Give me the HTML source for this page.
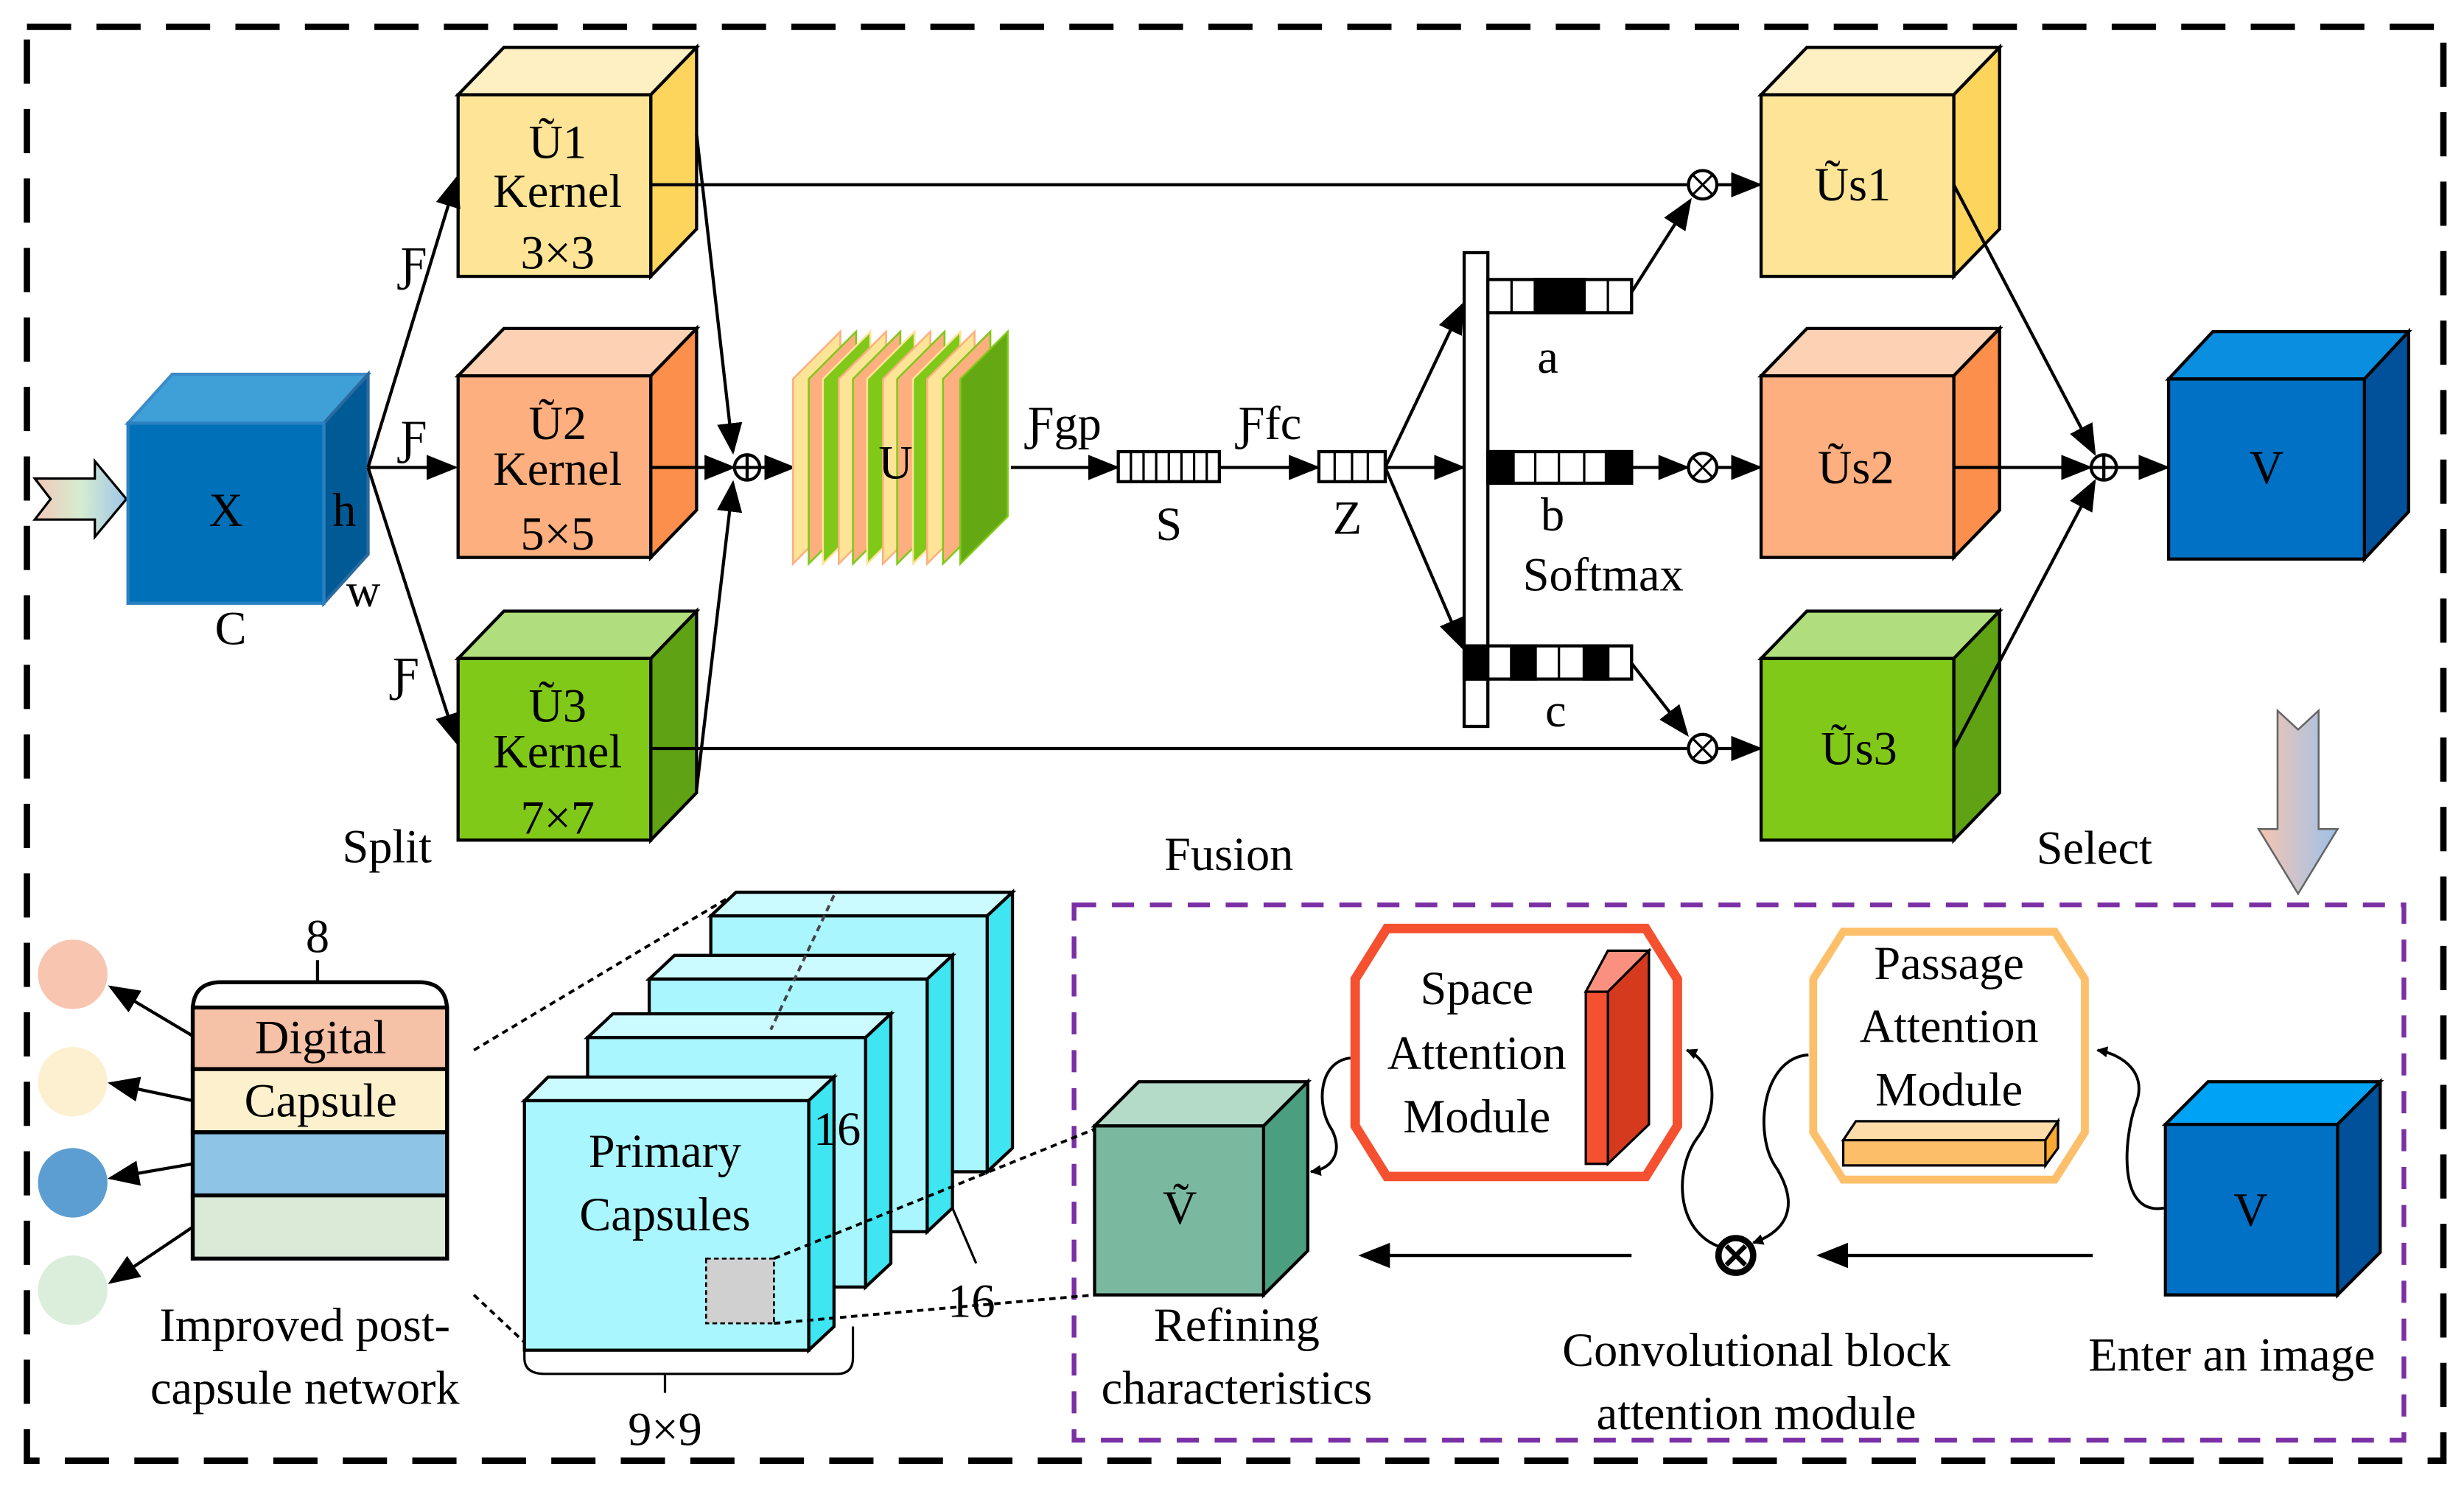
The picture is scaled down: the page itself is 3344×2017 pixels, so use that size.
<!DOCTYPE html>
<html><head><meta charset="utf-8"><style>
html,body{margin:0;padding:0;background:#fff}
svg{display:block}
text{font-family:"Liberation Serif",serif;fill:#000}
</style></head><body>
<svg width="3344" height="2017" viewBox="0 0 1560 941" xmlns="http://www.w3.org/2000/svg">
<defs>
<marker id="ah" viewBox="0 0 10 10" refX="9" refY="5" markerWidth="7" markerHeight="7" orient="auto-start-reverse" markerUnits="userSpaceOnUse"><path d="M0,0 L10,5 L0,10 z" fill="#000"/></marker>
<marker id="ah2" viewBox="0 0 10 10" refX="9" refY="5" markerWidth="20" markerHeight="20" orient="auto" markerUnits="userSpaceOnUse"><path d="M0,1 L10,5 L0,9 z" fill="#000"/></marker>
<linearGradient id="ing" x1="0" y1="0" x2="1" y2="0"><stop offset="0" stop-color="#f3c8b8"/><stop offset="0.5" stop-color="#d6ecd0"/><stop offset="1" stop-color="#9ec6e8"/></linearGradient>
<linearGradient id="dng" x1="0" y1="0" x2="1" y2="0"><stop offset="0" stop-color="#f7c4b0"/><stop offset="1" stop-color="#9cc2ea"/></linearGradient>
</defs>
<rect x="17" y="17" width="1530" height="908" fill="none" stroke="#000" stroke-width="4" stroke-dasharray="28,16"/>
<g stroke="#000" stroke-width="2">
<polygon points="22,303 60,303 60,292 80,316 60,340 60,329 22,329 32,316" fill="url(#ing)" stroke-width="1.5"/>
<polygon points="81,268 109,237 233,237 205,268" fill="#3fa0d8" stroke="#3a8cc8"/>
<polygon points="205,268 233,237 233,351 205,382" fill="#005a96" stroke="#2a6aa0"/>
<rect x="81" y="268" width="124" height="114" fill="#0071b8" stroke="#2a80c0"/>
<polygon points="290,60 319,30 441,30 412,60" fill="#fff0c4"/><polygon points="412,60 441,30 441,145 412,175" fill="#fdd45c"/><rect x="290" y="60" width="122" height="115" fill="#fde497"/>
<polygon points="290,238 319,208 441,208 412,238" fill="#fdd1b4"/><polygon points="412,238 441,208 441,323 412,353" fill="#fc8f4b"/><rect x="290" y="238" width="122" height="115" fill="#fdaf80"/>
<polygon points="290,417 319,387 441,387 412,417" fill="#b1de7c"/><polygon points="412,417 441,387 441,502 412,532" fill="#5fa214"/><rect x="290" y="417" width="122" height="115" fill="#80c918"/>
<line x1="233" y1="296" x2="289" y2="113" marker-end="url(#ah2)"/>
<line x1="233" y1="296" x2="288" y2="296" marker-end="url(#ah2)"/>
<line x1="233" y1="296" x2="289" y2="470" marker-end="url(#ah2)"/>
<line x1="441" y1="85" x2="464" y2="286" marker-end="url(#ah2)"/>
<line x1="412" y1="296" x2="464" y2="296" marker-end="url(#ah2)"/>
<line x1="441" y1="500" x2="464" y2="306" marker-end="url(#ah2)"/>
<circle cx="473" cy="296" r="8" fill="#fff"/><line x1="465" y1="296" x2="481" y2="296"/><line x1="473" y1="288" x2="473" y2="304"/>
<line x1="481" y1="296" x2="502" y2="296" marker-end="url(#ah2)"/>
</g>
<g stroke-width="1.2">
<polygon points="502,240 532,210 532,327 502,357" fill="#fde497" stroke="#fdaf80"/>
<polygon points="512,240 542,210 542,327 512,357" fill="#fdaf80" stroke="#80c918"/>
<polygon points="521,240 551,210 551,327 521,357" fill="#80c918" stroke="#fde497"/>
<polygon points="531,240 561,210 561,327 531,357" fill="#fde497" stroke="#fdaf80"/>
<polygon points="540,240 570,210 570,327 540,357" fill="#fdaf80" stroke="#80c918"/>
<polygon points="549,240 579,210 579,327 549,357" fill="#80c918" stroke="#fde497"/>
<polygon points="559,240 589,210 589,327 559,357" fill="#fde497" stroke="#fdaf80"/>
<polygon points="568,240 598,210 598,327 568,357" fill="#fdaf80" stroke="#80c918"/>
<polygon points="578,240 608,210 608,327 578,357" fill="#80c918" stroke="#fde497"/>
<polygon points="587,240 617,210 617,327 587,357" fill="#fde497" stroke="#fdaf80"/>
<polygon points="597,240 627,210 627,327 597,357" fill="#fdaf80" stroke="#80c918"/>
<polygon points="608,240 638,210 638,327 608,357" fill="#64a814" stroke="#80c918"/>
</g>
<g stroke="#000" stroke-width="2">
<line x1="640" y1="296" x2="707" y2="296" marker-end="url(#ah2)"/>
<rect x="708" y="286" width="64" height="19" fill="#fff"/>
<path d="M716,286v19M724,286v19M732,286v19M740,286v19M748,286v19M756,286v19M764,286v19" stroke-width="1.5"/>
<line x1="772" y1="296" x2="834" y2="296" marker-end="url(#ah2)"/>
<rect x="835" y="286" width="42" height="19" fill="#fff"/>
<path d="M845,286v19M856,286v19M866,286v19" stroke-width="1.5"/>
<line x1="877" y1="296" x2="926" y2="296" marker-end="url(#ah2)"/>
<line x1="877" y1="296" x2="926" y2="193" marker-end="url(#ah2)"/>
<line x1="877" y1="296" x2="926" y2="410" marker-end="url(#ah2)"/>
<rect x="927" y="160" width="15" height="300" fill="#fff"/>
<rect x="942" y="177" width="91" height="21" fill="#fff"/>
<rect x="972" y="177" width="31" height="21" fill="#000"/>
<path d="M957,177v21M1018,177v21" stroke-width="1.5"/>
<rect x="942" y="286" width="91" height="20" fill="#fff"/>
<rect x="942" y="286" width="16" height="20" fill="#000"/><rect x="1017" y="286" width="16" height="20" fill="#000"/>
<path d="M972,286v20M987,286v20M1003,286v20" stroke-width="1.5"/>
<rect x="927" y="409" width="106" height="21" fill="#fff"/>
<rect x="927" y="409" width="15" height="21" fill="#000"/><rect x="957" y="409" width="15" height="21" fill="#000"/><rect x="1003" y="409" width="15" height="21" fill="#000"/>
<path d="M987,409v21" stroke-width="1.5"/>
<line x1="1033" y1="185" x2="1070" y2="127" marker-end="url(#ah2)"/>
<line x1="1033" y1="296" x2="1068" y2="296" marker-end="url(#ah2)"/>
<line x1="1033" y1="420" x2="1068" y2="465" marker-end="url(#ah2)"/>
<line x1="412" y1="117" x2="1068" y2="117"/>
<line x1="412" y1="474" x2="1068" y2="474"/>
<g fill="#fff">
<circle cx="1078" cy="117" r="9"/><circle cx="1078" cy="296" r="9"/><circle cx="1078" cy="474" r="9"/>
</g>
<path d="M1072,111l12,12M1084,111l-12,12M1072,290l12,12M1084,290l-12,12M1072,468l12,12M1084,468l-12,12" stroke-width="1.5"/>
<line x1="1087" y1="117" x2="1114" y2="117" marker-end="url(#ah2)"/>
<line x1="1087" y1="296" x2="1114" y2="296" marker-end="url(#ah2)"/>
<line x1="1087" y1="474" x2="1114" y2="474" marker-end="url(#ah2)"/>
<polygon points="1115,60 1144,30 1266,30 1237,60" fill="#fff0c4"/><polygon points="1237,60 1266,30 1266,145 1237,175" fill="#fdd45c"/><rect x="1115" y="60" width="122" height="115" fill="#fde497"/>
<polygon points="1115,238 1144,208 1266,208 1237,238" fill="#fdd1b4"/><polygon points="1237,238 1266,208 1266,323 1237,353" fill="#fc8f4b"/><rect x="1115" y="238" width="122" height="115" fill="#fdaf80"/>
<polygon points="1115,417 1144,387 1266,387 1237,417" fill="#b1de7c"/><polygon points="1237,417 1266,387 1266,502 1237,532" fill="#5fa214"/><rect x="1115" y="417" width="122" height="115" fill="#80c918"/>
<line x1="1237" y1="117" x2="1326" y2="287" marker-end="url(#ah2)"/>
<line x1="1237" y1="296" x2="1323" y2="296" marker-end="url(#ah2)"/>
<line x1="1237" y1="474" x2="1326" y2="305" marker-end="url(#ah2)"/>
<circle cx="1332" cy="296" r="8" fill="#fff"/><line x1="1324" y1="296" x2="1340" y2="296"/><line x1="1332" y1="288" x2="1332" y2="304"/>
<line x1="1340" y1="296" x2="1372" y2="296" marker-end="url(#ah2)"/>
<polygon points="1373,240 1401,210 1525,210 1497,240" fill="#0a8ee0"/><polygon points="1497,240 1525,210 1525,324 1497,354" fill="#00509a"/><rect x="1373" y="240" width="124" height="114" fill="#0071c5"/>
</g>
<polygon points="1442,450 1455,462 1468,450 1468,525 1480,525 1455,566 1430,525 1442,525" fill="url(#dng)" stroke="#666" stroke-width="1.2"/>
<rect x="680" y="573" width="842" height="339" fill="none" stroke="#7b2fa5" stroke-width="3" stroke-dasharray="14,10"/>
<circle cx="46" cy="617" r="22" fill="#f7c5b0"/><circle cx="46" cy="685" r="22" fill="#fdf0d0"/><circle cx="46" cy="749" r="22" fill="#5d9ed2"/><circle cx="46" cy="817" r="22" fill="#dbeedb"/>
<g stroke="#000" stroke-width="2.5">
<path d="M122,797 V640 Q122,622 140,622 H265 Q283,622 283,640 V797 Z" fill="#fff"/>
<rect x="122" y="638" width="161" height="39" fill="#f5c1a7"/>
<rect x="122" y="677" width="161" height="40" fill="#fdf0cc"/>
<rect x="122" y="717" width="161" height="40" fill="#8ec4e5"/>
<rect x="122" y="757" width="161" height="40" fill="#dbe9d7"/>
<line x1="201" y1="608" x2="201" y2="622" stroke-width="2"/>
<line x1="122" y1="656" x2="70" y2="625" marker-end="url(#ah2)" stroke-width="2"/>
<line x1="122" y1="697" x2="70" y2="686" marker-end="url(#ah2)" stroke-width="2"/>
<line x1="122" y1="737" x2="70" y2="746" marker-end="url(#ah2)" stroke-width="2"/>
<line x1="122" y1="777" x2="70" y2="812" marker-end="url(#ah2)" stroke-width="2"/>
</g>
<g stroke="#000" stroke-width="2">
<polygon points="450,580 466,565 641,565 625,580" fill="#ccfbff"/><polygon points="625,580 641,565 641,727 625,742" fill="#3fe5f0"/><rect x="450" y="580" width="175" height="162" fill="#aaf6ff"/>
<polygon points="411,620 427,605 603,605 587,620" fill="#ccfbff"/><polygon points="587,620 603,605 603,765 587,780" fill="#3fe5f0"/><rect x="411" y="620" width="176" height="160" fill="#aaf6ff"/>
<polygon points="372,657 388,642 564,642 548,657" fill="#ccfbff"/><polygon points="548,657 564,642 564,800 548,815" fill="#3fe5f0"/><rect x="372" y="657" width="176" height="158" fill="#aaf6ff"/>
<path d="M332,840 V860 Q332,870 345,870 H530 Q540,870 540,860 V840" fill="none" stroke-width="1.5"/>
<polygon points="332,697 347,682 528,682 512,697" fill="#ccfbff"/><polygon points="512,697 528,682 528,840 512,855" fill="#3fe5f0"/><rect x="332" y="697" width="180" height="158" fill="#aaf6ff"/>
<rect x="447" y="797" width="43" height="41" fill="#d0d0d0" stroke-dasharray="3,2" stroke-width="1.2"/>
<line x1="603" y1="765" x2="618" y2="800" stroke-width="1.5"/>
<line x1="421" y1="870" x2="421" y2="882" stroke-width="1.5"/>
</g>
<g stroke="#000" stroke-width="1.8" stroke-dasharray="4,3" fill="none">
<line x1="300" y1="665" x2="462" y2="568"/><line x1="300" y1="820" x2="332" y2="850"/>
<line x1="490" y1="797" x2="693" y2="715"/><line x1="490" y1="838" x2="693" y2="820"/>
<line x1="528" y1="567" x2="488" y2="652" stroke="#444"/>
</g>
<g stroke="#000" stroke-width="2">
<polygon points="693,713 721,685 828,685 800,713" fill="#b3dbc8"/><polygon points="800,713 828,685 828,792 800,820" fill="#4b9e80"/><rect x="693" y="713" width="107" height="107" fill="#7ab9a0"/>
</g>
<polygon points="878,588 1042,588 1062,620 1062,713 1042,745 878,745 858,713 858,620" fill="#fff" stroke="#f5502f" stroke-width="6"/>
<polygon points="1167,590 1301,590 1320,620 1320,717 1301,747 1167,747 1148,717 1148,620" fill="#fff" stroke="#fdbf6a" stroke-width="5"/>
<g stroke="#000" stroke-width="1.5">
<polygon points="1004,628 1018,602 1044,602 1018,628" fill="#f99080"/><polygon points="1018,628 1044,602 1044,712 1018,737" fill="#d63a1e"/><rect x="1004" y="628" width="14" height="109" fill="#f5502f"/>
<polygon points="1167,722 1175,710 1303,710 1295,722" fill="#fddcaa"/><polygon points="1295,722 1303,710 1303,727 1295,738" fill="#f9a830"/><rect x="1167" y="722" width="128" height="16" fill="#fdbe6a"/>
</g>
<g stroke="#000" stroke-width="2">
<polygon points="1371,712 1398,685 1507,685 1480,712" fill="#00a2f5"/><polygon points="1480,712 1507,685 1507,793 1480,820" fill="#00509a"/><rect x="1371" y="712" width="109" height="108" fill="#0071c5"/>
<line x1="1325" y1="795" x2="1152" y2="795" marker-end="url(#ah2)"/>
<line x1="1033" y1="795" x2="862" y2="795" marker-end="url(#ah2)"/>
<circle cx="1099" cy="795" r="11" fill="#fff" stroke-width="4"/>
<path d="M1093,789l12,12M1105,789l-12,12" stroke-width="3"/>
</g>
<g stroke="#000" stroke-width="1.8" fill="none">
<path d="M1370,765 C1340,770 1345,720 1352,700 C1360,680 1345,668 1328,665" marker-end="url(#ah)"/>
<path d="M1145,668 C1115,670 1110,720 1125,740 C1140,765 1130,780 1110,787" marker-end="url(#ah)"/>
<path d="M1090,790 C1060,780 1060,740 1075,720 C1090,700 1085,672 1068,665" marker-end="url(#ah)"/>
<path d="M855,670 C835,672 833,700 843,715 C850,728 845,740 830,742" marker-end="url(#ah)"/>
</g>
<g font-size="30" text-anchor="middle">
<text x="353" y="100">Ũ1</text><text x="353" y="131">Kernel</text><text x="353" y="170">3×3</text>
<text x="353" y="278">Ũ2</text><text x="353" y="307">Kernel</text><text x="353" y="348">5×5</text>
<text x="353" y="457">Ũ3</text><text x="353" y="486">Kernel</text><text x="353" y="528">7×7</text>
<text x="1173" y="127">Ũs1</text><text x="1175" y="306">Ũs2</text><text x="1177" y="484">Ũs3</text>
<text x="1435" y="306">V</text>
<text x="143" y="333">X</text><text x="218" y="333">h</text><text x="230" y="384">w</text><text x="146" y="408">C</text>
<text x="262" y="177">Ƒ</text><text x="262" y="287">Ƒ</text><text x="257" y="437">Ƒ</text>
<text x="567" y="303">U</text>
<text x="674" y="278">Ƒgp</text><text x="804" y="278">Ƒfc</text>
<text x="740" y="342">S</text><text x="853" y="338">Z</text>
<text x="980" y="236">a</text><text x="983" y="336">b</text><text x="1015" y="374">Softmax</text><text x="985" y="460">c</text>
<text x="245" y="546">Split</text><text x="778" y="551">Fusion</text><text x="1326" y="547">Select</text>
<text x="201" y="603">8</text>
<text x="203" y="667">Digital</text><text x="203" y="707">Capsule</text>
<text x="193" y="849">Improved post-</text><text x="193" y="889">capsule network</text>
<text x="421" y="739">Primary</text><text x="421" y="779">Capsules</text>
<text x="530" y="725">16</text><text x="615" y="834">16</text><text x="421" y="915">9×9</text>
<text x="747" y="775">Ṽ</text>
<text x="783" y="849">Refining</text><text x="783" y="889">characteristics</text>
<text x="935" y="636">Space</text><text x="935" y="677">Attention</text><text x="935" y="717">Module</text>
<text x="1234" y="620">Passage</text><text x="1234" y="660">Attention</text><text x="1234" y="700">Module</text>
<text x="1425" y="776">V</text>
<text x="1413" y="868">Enter an image</text>
<text x="1112" y="865">Convolutional block</text><text x="1112" y="905">attention module</text>
</g>
</svg>
</body></html>
